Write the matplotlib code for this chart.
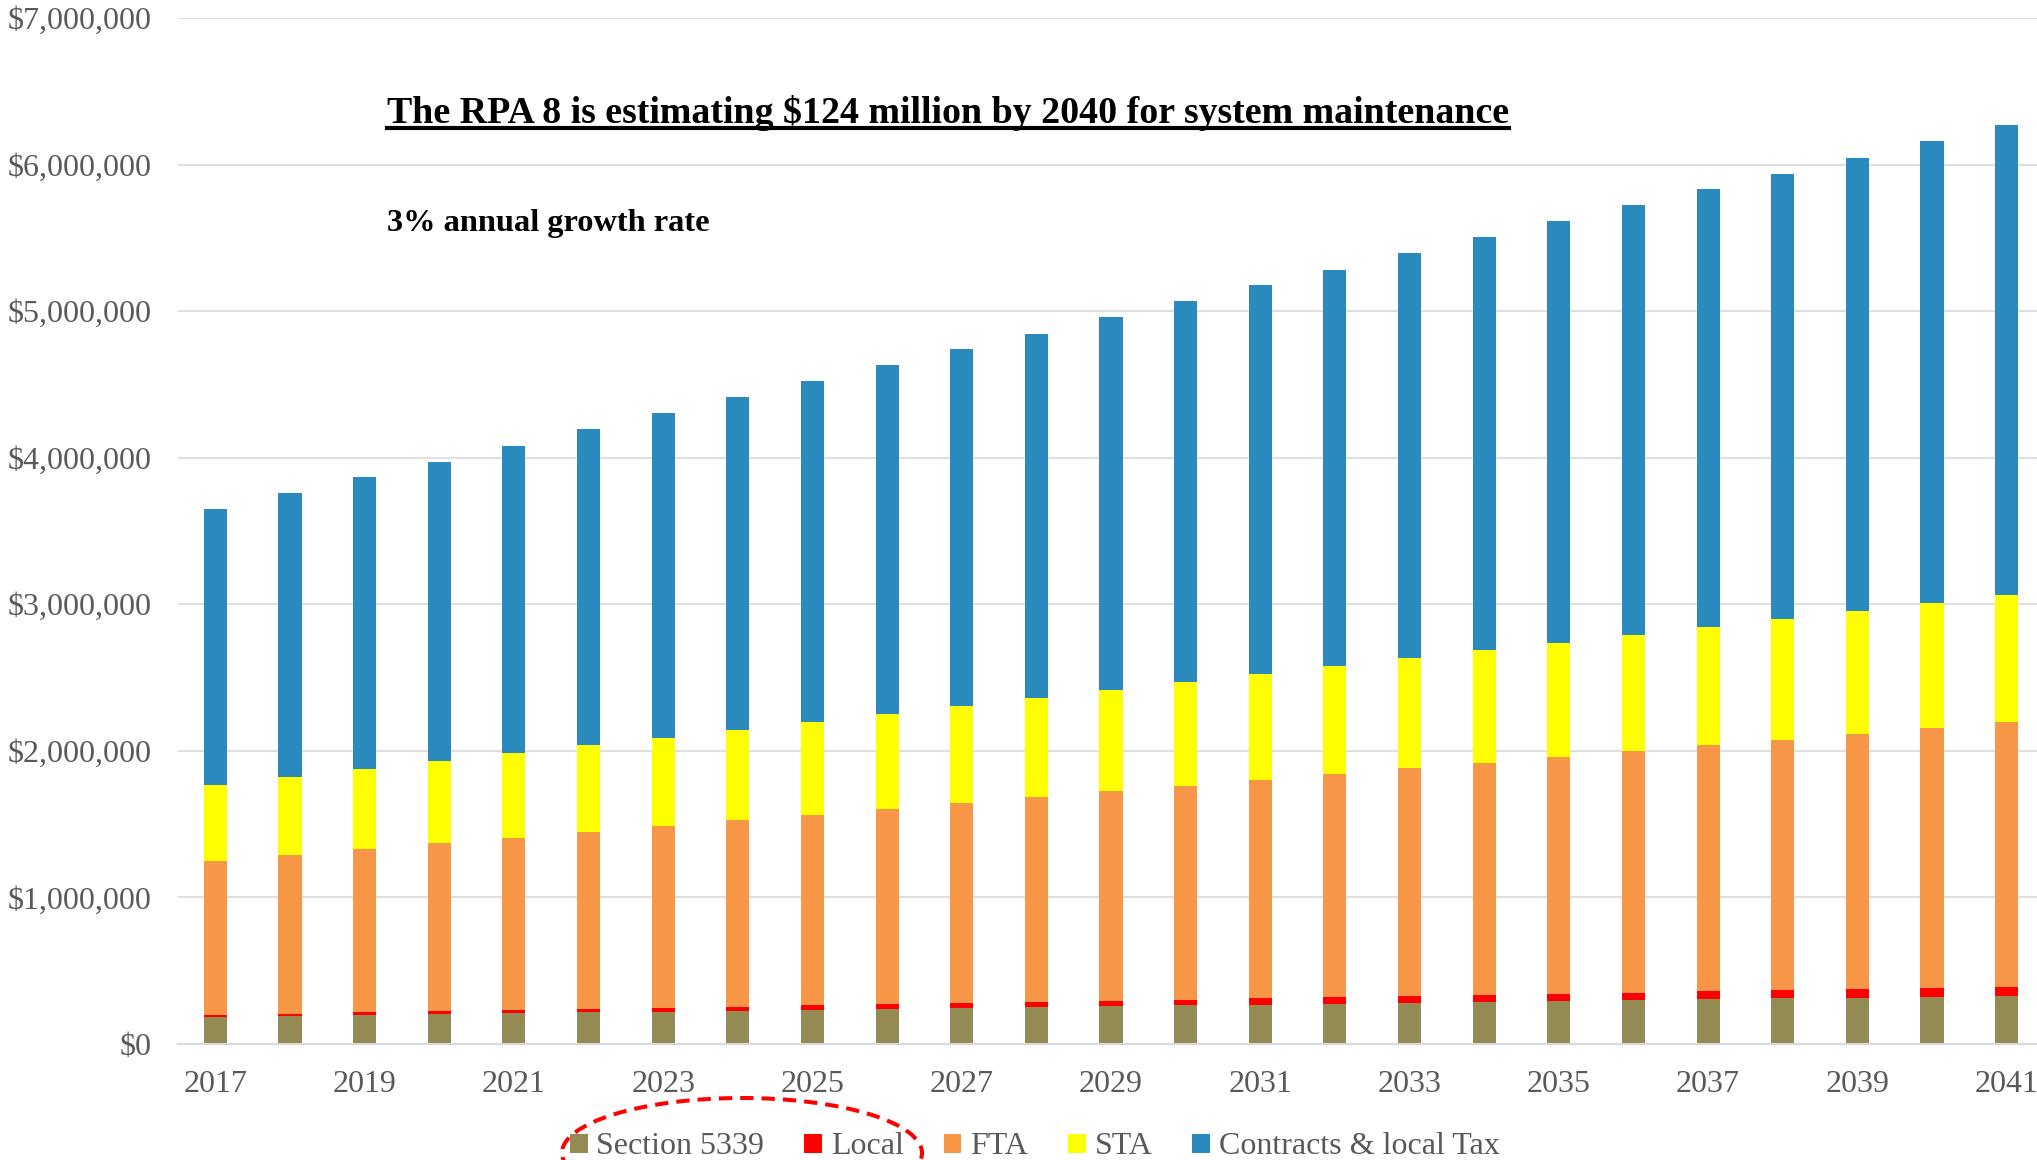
import matplotlib.pyplot as plt
import numpy as np
from matplotlib.patches import Ellipse
from matplotlib.lines import Line2D
from matplotlib.ticker import FuncFormatter

plt.rcParams['font.family'] = ['Liberation Serif', 'DejaVu Serif']

years = ['2017', '2018', '2019', '2020', '2021', '2022', '2023', '2024', '2025',
         '2026', '2027', '2028', '2029', '2030', '2031', '2032', '2033', '2034',
         '2035', '2036', '2037', '2038', '2039', '2040', '2041']

section_5339 = [185000, 191000, 197000, 203000, 209000, 215000, 221000, 227000, 233000,
                239000, 245000, 251000, 257000, 263000, 269000, 275000, 281000, 287000,
                293000, 299000, 305000, 311000, 317000, 323000, 329000]
local = [14000, 16000, 18000, 20000, 22000, 24000, 26000, 28000, 30000,
         32000, 34000, 36000, 38000, 40000, 42000, 44000, 46000, 48000,
         50000, 52000, 54000, 56000, 58000, 60000, 62000]
fta = [1052000, 1083000, 1115000, 1146000, 1177000, 1209000, 1240000, 1271000, 1302000,
       1334000, 1365000, 1396000, 1428000, 1459000, 1490000, 1521000, 1553000, 1584000,
       1615000, 1647000, 1678000, 1709000, 1740000, 1772000, 1803000]
sta = [515000, 530000, 545000, 559000, 574000, 589000, 604000, 618000, 633000,
       648000, 663000, 677000, 692000, 707000, 722000, 736000, 751000, 766000,
       781000, 795000, 810000, 825000, 840000, 854000, 869000]
contracts = [1881000, 1936000, 1991000, 2046000, 2101000, 2157000, 2212000, 2267000, 2322000,
             2377000, 2432000, 2487000, 2542000, 2597000, 2652000, 2708000, 2763000, 2818000,
             2873000, 2928000, 2983000, 3038000, 3093000, 3149000, 3204000]

series = [
    ('Section 5339', section_5339, '#948A54'),
    ('Local', local, '#FF0000'),
    ('FTA', fta, '#F79646'),
    ('STA', sta, '#FFFF00'),
    ('Contracts & local Tax', contracts, '#2A8ABD'),
]

GRAY = '#595959'
GRID = '#D9D9D9'

fig = plt.figure(figsize=(20.37, 11.6), dpi=100)
ax = fig.add_axes([178 / 2037, 1 - 1044 / 1160, (2044 - 178) / 2037, (1044 - 18) / 1160])

x = np.arange(len(years))
bottom = np.zeros(len(years))
for name, vals, col in series:
    ax.bar(x, vals, width=0.31, bottom=bottom, color=col, label=name, zorder=3)
    bottom += np.array(vals)

ax.set_xlim(-0.5, len(years) - 0.5)
ax.set_ylim(0, 7000000)
ax.set_yticks(np.arange(0, 7000001, 1000000))
ax.yaxis.set_major_formatter(FuncFormatter(lambda v, p: '${:,.0f}'.format(v)))
ax.set_xticks(x[::2])
ax.set_xticklabels(years[::2])
ax.tick_params(axis='both', length=0, labelsize=23, labelcolor=GRAY)
ax.tick_params(axis='y', pad=19)
ax.tick_params(axis='x', pad=19)

ax.grid(axis='y', color=GRID, linewidth=1.2, zorder=0)
for s in ['top', 'right', 'left']:
    ax.spines[s].set_visible(False)
ax.spines['bottom'].set_color(GRID)
ax.spines['bottom'].set_linewidth(1.5)
ax.spines['bottom'].set_zorder(4)

leg = fig.legend(loc='center', bbox_to_anchor=(0.508, 1 - 1147 / 1160), ncol=5,
                 frameon=False, fontsize=23, handlelength=0.55, handleheight=0.55,
                 handletextpad=0.28, columnspacing=1.25, borderaxespad=0)
for t in leg.get_texts():
    t.set_color(GRAY)

# red dashed ring around the first two legend entries
ring = Ellipse((742 / 2037, 1 - 1153 / 1160), 360 / 2037, 110 / 1160,
               transform=fig.transFigure, fill=False, edgecolor='#FF0000',
               linewidth=2.9, linestyle=(0, (3.3, 2.0)), clip_on=False)
fig.patches.append(ring)

title = fig.text(387 / 2037, 1 - 113 / 1160,
                 'The RPA 8 is estimating $124 million by 2040 for system maintenance',
                 fontsize=27.3, fontweight='bold', ha='left', va='center')
fig.text(387 / 2037, 1 - 224 / 1160, '3% annual growth rate',
         fontsize=23.3, fontweight='bold', ha='left', va='center')

# underline the headline
fig.canvas.draw()
bb = title.get_window_extent().transformed(fig.transFigure.inverted())
uy = 1 - 128 / 1160
fig.lines.append(Line2D([bb.x0, bb.x1], [uy, uy], transform=fig.transFigure,
                        color='black', linewidth=3))

fig.savefig('out.png', dpi=100)
